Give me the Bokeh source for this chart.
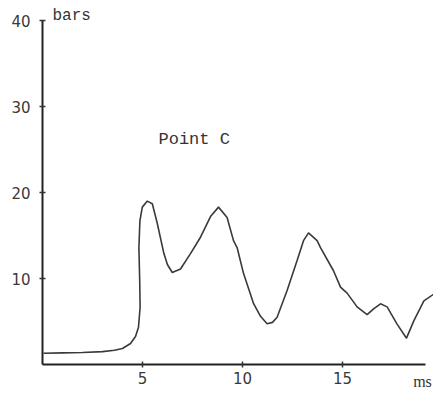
from bokeh.plotting import figure
from bokeh.models import Range1d, FixedTicker, Label, LinearAxis
from bokeh.embed import file_html
from bokeh.resources import INLINE

# Pressure trace at Point C
time_ms = [0.05, 1.0, 2.0, 3.0, 3.6, 4.0, 4.4, 4.65, 4.8, 4.88, 4.86, 4.82, 4.87,
           4.99, 5.24, 5.49, 5.74, 6.07, 6.25, 6.49, 6.9, 7.4, 7.9, 8.4, 8.8,
           9.23, 9.55, 9.73, 10.05, 10.55, 10.9, 11.23, 11.5, 11.73, 12.23,
           12.73, 13.05, 13.3, 13.73, 13.9, 14.55, 14.9, 15.23, 15.73, 16.23,
           16.57, 16.9, 17.23, 17.73, 18.2, 18.57, 19.07, 19.57]
pressure_bars = [1.3, 1.35, 1.4, 1.5, 1.65, 1.86, 2.44, 3.26, 4.34, 6.66, 9.77, 13.6, 16.7,
                 18.3, 19.0, 18.7, 16.4, 12.9, 11.6, 10.7, 11.1, 12.9, 14.8, 17.2, 18.3,
                 17.1, 14.4, 13.6, 10.6, 7.1, 5.6, 4.73, 4.9, 5.5, 8.6,
                 12.1, 14.4, 15.3, 14.4, 13.6, 10.9, 9.0, 8.3, 6.7, 5.8,
                 6.5, 7.06, 6.7, 4.7, 3.06, 5.1, 7.4, 8.2]

x_ticks = [5, 10, 15]
y_ticks = [10, 20, 30, 40]
x_axis_end = 19.15
y_axis_end = 40

p = figure(width=433, height=389, output_backend="svg", toolbar_location=None,
           x_range=Range1d(-2.1, 19.55), y_range=Range1d(-2.907, 42.326),
           x_axis_location=None, y_axis_location=None,
           min_border_left=0, min_border_right=0, min_border_top=0, min_border_bottom=0)
p.outline_line_color = None
p.xgrid.visible = False
p.ygrid.visible = False
p.background_fill_color = "white"
p.border_fill_color = "white"

mono = "Liberation Mono"
tick_font = "DejaVu Sans"
xaxis = LinearAxis(fixed_location=0)
yaxis = LinearAxis(fixed_location=0)
for ax, ticks, end in ((xaxis, x_ticks, x_axis_end), (yaxis, y_ticks, y_axis_end)):
    ax.ticker = FixedTicker(ticks=ticks)
    ax.bounds = (0, end)
    ax.axis_line_color = "#222222"
    ax.axis_line_width = 2
    ax.major_tick_line_color = "#333333"
    ax.major_tick_line_width = 1.5
    ax.major_tick_in = 3
    ax.major_tick_out = 3
    ax.minor_tick_line_color = None
    ax.major_label_text_font = tick_font
    ax.major_label_text_font_size = "15px"
    ax.major_label_text_color = "#3a3a3a"
xaxis.major_label_standoff = 4
yaxis.major_label_standoff = 9
p.add_layout(xaxis, "below")
p.add_layout(yaxis, "left")

p.line(time_ms, pressure_bars, line_color="#3a3a3a", line_width=1.6)

p.add_layout(Label(x=0.5, y=40.58, text="bars", text_font=mono, text_font_size="16px",
                   text_color="#333333", text_baseline="middle"))
p.add_layout(Label(x=5.8, y=26.16, text="Point C", text_font=mono, text_font_size="17px",
                   text_color="#333333", text_baseline="middle"))
p.add_layout(Label(x=19.0, y=-1.98, text="ms", text_font="Liberation Serif", text_font_size="16px",
                   text_color="#333333", text_baseline="middle", text_align="center"))

open("out.html", "w").write(file_html(p, INLINE))
